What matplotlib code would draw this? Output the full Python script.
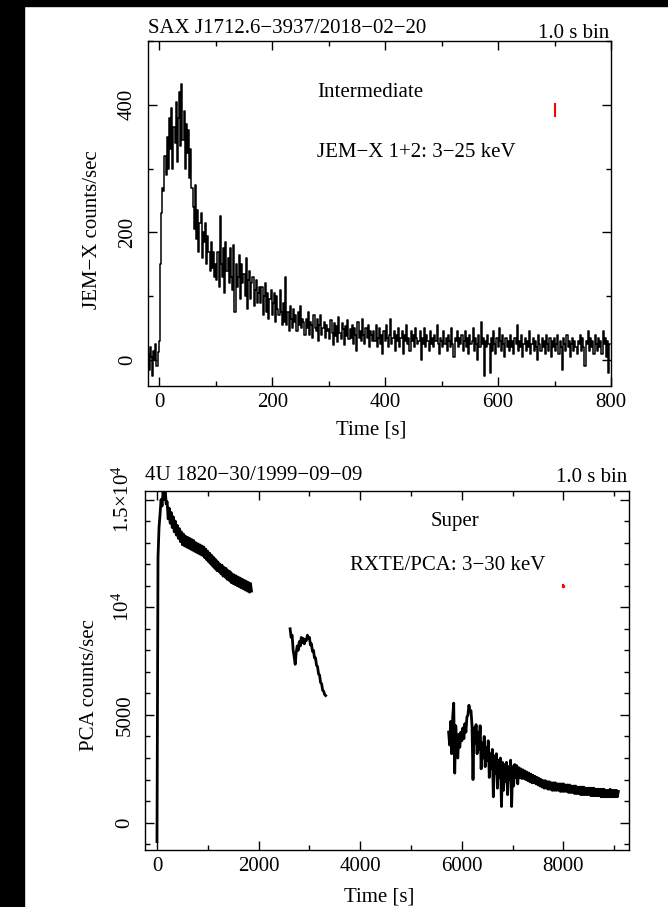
import numpy as np
import matplotlib
matplotlib.use("Agg")
import matplotlib.pyplot as plt
from matplotlib.patches import Rectangle
from matplotlib.ticker import MultipleLocator, FuncFormatter

plt.rcParams['font.family'] = ['Liberation Serif', 'DejaVu Serif']
plt.rcParams['mathtext.fontset'] = 'custom'
plt.rcParams['mathtext.rm'] = 'Liberation Serif'
plt.rcParams['mathtext.it'] = 'Liberation Serif:italic'
plt.rcParams['font.size'] = 15

# ---- top panel: SAX J1712.6-3937, JEM-X, 2 s samples starting at -20 s
jemx_t0 = -20
jemx_dt = 2
jemx_rate = [
    10, -15, 20, 5, -25, 15, 0, 25, -10, 12, 30, 150, 230, 270, 265, 320, 290, 350, 300, 380,
    330, 395, 300, 365, 340, 405, 310, 380, 420, 335, 432, 345, 390, 300, 370, 325, 360, 285, 330, 270,
    240, 205, 275, 190, 235, 170, 215, 230, 160, 200, 185, 215, 150, 195, 170, 140, 185, 145, 170, 130,
    150, 125, 170, 115, 225, 150, 130, 175, 105, 185, 140, 160, 120, 175, 130, 110, 180, 75, 150, 115,
    130, 165, 95, 150, 120, 135, 100, 160, 80, 125, 140, 95, 120, 130, 85, 110, 125, 90, 105, 115,
    90, 115, 70, 100, 120, 75, 105, 65, 95, 110, 70, 90, 105, 60, 100, 80, 70, 110, 75, 55,
    90, 60, 130, 55, 75, 45, 85, 65, 50, 80, 60, 70, 45, 75, 55, 85, 50, 65, 60, 40,
    65, 50, 75, 40, 60, 55, 35, 70, 50, 45, 65, 30, 55, 70, 40, 50, 60, 35, 55, 45,
    48, 33, 63, 43, 23, 58, 38, 53, 28, 68, 43, 33, 58, 48, 23, 53, 38, 63, 33, 48,
    35, 55, 25, 50, 40, 15, 60, 35, 45, 30, 65, 40, 25, 50, 35, 55, 20, 45, 40, 30,
    45, 30, 55, 20, 35, 50, 25, 40, 10, 45, 30, 55, 35, 20, 40, 65, 25, 35, 45, 15,
    40, 30, 50, 20, 35, 45, 10, 40, 30, 55, 25, 35, 15, 45, 30, 40, 20, 50, 35, 25,
    30, 45, 0, 35, 25, 50, 20, 40, 30, 15, 45, 25, 35, 20, 40, 30, 55, 25, 10, 35,
    30, 20, 45, 25, 35, 15, 40, 30, 20, 50, 25, 5, 35, 30, 45, 20, 35, 25, 40, 15,
    30, 45, 20, 35, 10, 40, 25, 30, 50, 15, 35, 25, 0, 40, 20, 60, 25, 35, -25, 30,
    20, 40, 25, -20, 35, 15, 45, 25, 10, 35, 20, 50, 30, 15, 40, 25, 5, 35, 20, 30,
    15, 40, 20, 30, 10, 35, 25, 55, 15, 30, 20, 40, 5, 25, 35, 15, 30, 20, 45, 10,
    25, 35, 15, 30, 20, 0, 40, 25, 15, 35, 20, 30, 10, 40, 25, 15, 35, 5, 30, 20,
    35, 15, 25, 40, 10, 30, 20, -15, 35, 25, 15, 40, 20, 30, 5, 25, 35, 15, 30, 20,
    10, 30, 25, 40, 15, 35, 20, -10, 30, 25, 45, 15, 35, 20, 30, 10, 40, 25, 15, 35,
    20, 30, 10, 45, 25, 35, 5, 30, -20, 25,
]
jemx_err_t, jemx_err_y, jemx_err = 700, 392, 11

# ---- bottom panel: 4U 1820-30, RXTE/PCA, three data segments (20 s samples)
pca_dt = 20
pca_seg1_t0 = 0
pca_seg1 = [
    -880, 12300, 13700, 14300, 15000, 14700, 15400, 15000, 15600, 14800,
    14900, 14100, 14600, 13900, 14400, 13700, 14200, 13500, 14000, 13350,
    13800, 13200, 13650, 13050, 13500, 12900, 13400, 12850, 13300, 12800,
    13250, 12750, 13200, 12700, 13150, 12650, 13100, 12600, 13000, 12550,
    12950, 12500, 12900, 12450, 12850, 12400, 12800, 12300, 12700, 12200,
    12600, 12100, 12500, 12000, 12400, 11900, 12300, 11800, 12200, 11700,
    12100, 11650, 12000, 11550, 11950, 11450, 11850, 11400, 11800, 11300,
    11700, 11250, 11650, 11150, 11550, 11100, 11500, 11050, 11450, 11000,
    11400, 10950, 11350, 10900, 11300, 10850, 11250, 10800, 11200, 10750,
    11150, 10700, 11100, 10750,
]
pca_seg2_t0 = 2620
pca_seg2 = [
    9000, 8600, 8700, 8000, 7700, 7350, 7900, 8200, 8000, 8400,
    8200, 8600, 8350, 8550, 8300, 8500, 8450, 8700, 8550, 8600,
    8250, 8300, 7950, 8000, 7650, 7650, 7300, 7250, 6900, 6850,
    6500, 6450, 6150, 6100, 5950, 5900,
]
pca_seg3_t0 = 5740
pca_seg3 = [
    4200, 3600, 4700, 3200, 4900, 5550, 2300, 4500, 3700, 3000,
    4100, 3500, 4200, 3800, 4400, 3900, 4600, 4200, 4900, 5000,
    5450, 5150, 5200, 4500, 2000, 4400, 3700, 4550, 3200, 4200,
    3400, 4500, 2500, 3700, 3000, 4000, 2600, 3500, 2900, 3800,
    2100, 3200, 2500, 3400, 1200, 3100, 2300, 3200, 1600, 2900,
    2100, 3000, 750, 2800, 1500, 2700, 1900, 2800, 1300, 2600,
    2000, 2900, 750, 2600, 1700, 2700, 2100, 2650, 1800, 2550,
    2100, 2500, 2050, 2450, 2050, 2400, 2000, 2350, 1950, 2300,
    1900, 2250, 1850, 2200, 1850, 2150, 1800, 2100, 1750, 2050,
    1700, 2000, 1650, 1950, 1600, 1950, 1600, 1900, 1550, 1900,
    1550, 1850, 1500, 1850, 1500, 1850, 1500, 1800, 1500, 1800,
    1450, 1800, 1450, 1800, 1450, 1750, 1450, 1750, 1400, 1750,
    1400, 1700, 1400, 1700, 1350, 1700, 1350, 1650, 1350, 1650,
    1300, 1650, 1300, 1650, 1300, 1600, 1300, 1600, 1300, 1600,
    1250, 1600, 1250, 1600, 1250, 1550, 1250, 1550, 1250, 1550,
    1200, 1550, 1200, 1550, 1200, 1500, 1200, 1500, 1200, 1550,
    1200, 1500, 1200, 1500, 1200, 1500, 1200, 1450,
]
pca_err_t, pca_err_y, pca_err = 8000, 11000, 60

fig = plt.figure(figsize=(6.68, 9.07), dpi=100)

# black border strips seen on left and top of the original
fig.add_artist(Rectangle((0, 0), 24 / 668, 1, transform=fig.transFigure, color='black', zorder=0))
fig.add_artist(Rectangle((0, 1 - 5.7 / 907), 1, 5.7 / 907, transform=fig.transFigure, color='black', zorder=0))


def style_axes(ax, xmaj, xmin, ymaj, ymin):
    ax.xaxis.set_major_locator(MultipleLocator(xmaj))
    ax.xaxis.set_minor_locator(MultipleLocator(xmin))
    ax.yaxis.set_major_locator(MultipleLocator(ymaj))
    ax.yaxis.set_minor_locator(MultipleLocator(ymin))
    ax.tick_params(which='both', direction='in', top=True, right=True, width=1.0)
    ax.tick_params(which='major', length=6.5)
    ax.tick_params(which='minor', length=3.5)
    ax.tick_params(axis='x', pad=5)
    ax.tick_params(axis='y', pad=8, labelrotation=90)
    for lab in ax.get_yticklabels():
        lab.set_va('center')
    for sp in ax.spines.values():
        sp.set_linewidth(1.0)


# ---- top panel
ax1 = fig.add_axes([148 / 668, 1 - 385.6 / 907, 463 / 668, 344.6 / 907])
jemx_t = jemx_t0 + jemx_dt * np.arange(len(jemx_rate))
ax1.step(jemx_t, jemx_rate, where='mid', color='black', lw=1.1)
ax1.errorbar(jemx_err_t, jemx_err_y, yerr=jemx_err, color='red', lw=1.5, capsize=0)
ax1.set_xlim(-20, 800)
ax1.set_ylim(-40, 500)
style_axes(ax1, 200, 100, 200, 100)
ax1.set_xlabel('Time [s]')
ax1.set_ylabel('JEM\u2212X counts/sec')
ax1.xaxis.set_label_coords(0.482, -0.1)
ax1.yaxis.set_label_coords(-0.1, 0.454)
ax1.annotate('SAX J1712.6\u22123937/2018\u221202\u221220', (0, 1), xycoords='axes fraction',
             xytext=(0, 6), textcoords='offset points', ha='left', va='baseline')
ax1.annotate('1.0 s bin', (1, 1), xycoords='axes fraction',
             xytext=(-1, 2.5), textcoords='offset points', ha='right', va='baseline')
ax1.text(373, 420, 'Intermediate', ha='center', va='center')
ax1.text(456, 326, 'JEM\u2212X 1+2: 3\u221225 keV', ha='center', va='center')

# ---- bottom panel
ax2 = fig.add_axes([145.3 / 668, 1 - 850 / 907, 483.7 / 668, 359.3 / 907])
for t0, seg in [(pca_seg1_t0, pca_seg1), (pca_seg2_t0, pca_seg2), (pca_seg3_t0, pca_seg3)]:
    seg_t = t0 + pca_dt * np.arange(len(seg))
    ax2.plot(seg_t, seg, color='black', lw=2.0)
ax2.errorbar(pca_err_t, pca_err_y, yerr=pca_err, color='red', lw=1.5, marker='o', ms=1.5, capsize=0)
ax2.set_xlim(-230, 9290)
ax2.set_ylim(-1270, 15410)
style_axes(ax2, 2000, 1000, 5000, 1000)

ylabels = {0: '0', 5000: '5000', 10000: '$10^4$', 15000: '$1.5{\\times}10^4$'}
ax2.yaxis.set_major_formatter(FuncFormatter(lambda v, p: ylabels.get(int(round(v)), '')))
for lab in ax2.get_yticklabels():
    lab.set_va('center')
ax2.set_xlabel('Time [s]')
ax2.set_ylabel('PCA counts/sec')
ax2.xaxis.set_label_coords(0.483, -0.103)
ax2.yaxis.set_label_coords(-0.096, 0.459)
ax2.annotate('4U 1820\u221230/1999\u221209\u221209', (0, 1), xycoords='axes fraction',
             xytext=(0, 8), textcoords='offset points', ha='left', va='baseline')
ax2.annotate('1.0 s bin', (1, 1), xycoords='axes fraction',
             xytext=(-1, 6), textcoords='offset points', ha='right', va='baseline')
ax2.text(5867, 14000, 'Super', ha='center', va='center')
ax2.text(5720, 11960, 'RXTE/PCA: 3\u221230 keV', ha='center', va='center')

fig.savefig('out.png', dpi=100)
